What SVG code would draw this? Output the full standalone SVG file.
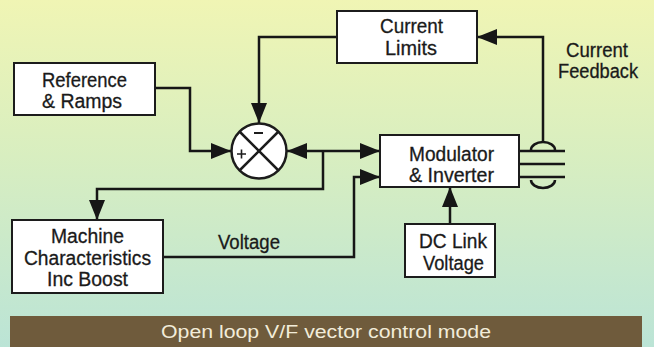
<svg xmlns="http://www.w3.org/2000/svg" width="654" height="347" viewBox="0 0 654 347">
<defs>
<linearGradient id="bg" x1="0" y1="0" x2="0" y2="1">
<stop offset="0" stop-color="#f0f5b4"/>
<stop offset="0.45" stop-color="#d8eec0"/>
<stop offset="1" stop-color="#bbe4d6"/>
</linearGradient>
<marker id="ah" markerUnits="userSpaceOnUse" markerWidth="20" markerHeight="16" refX="20" refY="8" orient="auto">
<path d="M0,0 L20,8 L0,16 Z" fill="#161616"/>
</marker>
<style>
.box{fill:#ffffff;stroke:#1c1c1c;stroke-width:2}
.t{font-family:"Liberation Sans",Arial,sans-serif;font-size:20px;fill:#1a1a1a;stroke:#1a1a1a;stroke-width:0.3}
.ln{fill:none;stroke:#161616;stroke-width:2.5}
.ar{marker-end:url(#ah)}
</style>
</defs>
<rect x="0" y="0" width="654" height="347" fill="url(#bg)"/>

<g id="connectors">
<path class="ln ar" d="M337,37 H259 V123"/>
<path class="ln ar" d="M543,142 V37 H477"/>
<path class="ln ar" d="M155,88 H190 V151 H231"/>
<path class="ln ar" d="M323,151 H287"/>
<path class="ln ar" d="M323,151 H380"/>
<path class="ln ar" d="M323,151 V189 H97 V220"/>
<path class="ln ar" d="M163,257 H354 V177 H380"/>
<path class="ln ar" d="M450,224 V187"/>
<path class="ln" d="M519,151 H565 M519,164 H565 M519,177 H565"/>
<path class="ln" d="M531,150 A12,8 0 0 1 555,150"/>
<path class="ln" d="M531,180 A12,8 0 0 0 555,180"/>
</g>

<g id="current-limits">
<rect class="box" x="337" y="11" width="140" height="52"/>
<text class="t" x="380" y="33" textLength="63" lengthAdjust="spacingAndGlyphs">Current</text>
<text class="t" x="385" y="55" textLength="52" lengthAdjust="spacingAndGlyphs">Limits</text>
</g>

<g id="current-feedback">
<text class="t" x="566" y="57" textLength="62" lengthAdjust="spacingAndGlyphs">Current</text>
<text class="t" x="558" y="78" textLength="80" lengthAdjust="spacingAndGlyphs">Feedback</text>
</g>

<g id="reference-ramps">
<rect class="box" x="14" y="63" width="141" height="52"/>
<text class="t" x="42" y="87" textLength="85" lengthAdjust="spacingAndGlyphs">Reference</text>
<text class="t" x="42" y="108" textLength="80" lengthAdjust="spacingAndGlyphs">&amp; Ramps</text>
</g>

<g id="summing-junction">
<circle cx="259" cy="151" r="27.5" fill="#ffffff" stroke="#1c1c1c" stroke-width="2.5"/>
<path d="M239.5,131.5 L278.5,170.5 M278.5,131.5 L239.5,170.5" stroke="#1c1c1c" stroke-width="2.5" fill="none"/>
<path d="M254,133 H263" stroke="#1c1c1c" stroke-width="2"/>
<path d="M237,154 H246 M241.5,149.5 V158.5" stroke="#1c1c1c" stroke-width="1.6"/>
</g>

<g id="modulator-inverter">
<rect class="box" x="380" y="135" width="139" height="52"/>
<text class="t" x="409" y="161" textLength="85" lengthAdjust="spacingAndGlyphs">Modulator</text>
<text class="t" x="409" y="182" textLength="85" lengthAdjust="spacingAndGlyphs">&amp; Inverter</text>
</g>

<g id="machine-characteristics">
<rect class="box" x="12" y="220" width="151" height="73"/>
<text class="t" x="51" y="243" textLength="73" lengthAdjust="spacingAndGlyphs">Machine</text>
<text class="t" x="24" y="265" textLength="127" lengthAdjust="spacingAndGlyphs">Characteristics</text>
<text class="t" x="47" y="286" textLength="81" lengthAdjust="spacingAndGlyphs">Inc Boost</text>
</g>

<g id="voltage-label">
<text class="t" x="218" y="249" textLength="62" lengthAdjust="spacingAndGlyphs">Voltage</text>
</g>

<g id="dc-link-voltage">
<rect class="box" x="405" y="224" width="90" height="53"/>
<text class="t" x="419" y="248" textLength="68" lengthAdjust="spacingAndGlyphs">DC Link</text>
<text class="t" x="423" y="270" textLength="61" lengthAdjust="spacingAndGlyphs">Voltage</text>
</g>

<g id="caption">
<rect x="10" y="316" width="632" height="31" fill="#6f5b3c"/>
<text x="161" y="338" font-family="'Liberation Sans',Arial,sans-serif" font-size="18" fill="#f2ecd9" textLength="330" lengthAdjust="spacingAndGlyphs">Open loop V/F vector control mode</text>
</g>
</svg>
